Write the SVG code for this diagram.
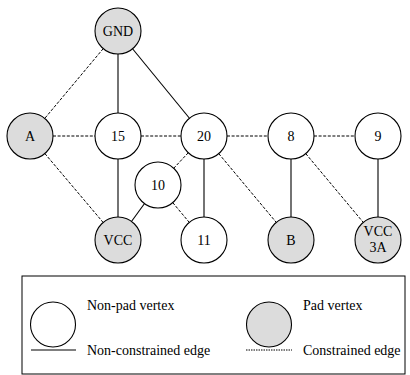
<svg xmlns="http://www.w3.org/2000/svg" width="410" height="375" viewBox="0 0 410 375">
<defs>
<style>
.n{fill:#fff;stroke:#000;stroke-width:1.1}
.p{fill:#dcdcdc;stroke:#000;stroke-width:1.1}
.s{stroke:#000;stroke-width:1.1;fill:none}
.d{stroke:#000;stroke-width:1;fill:none;stroke-dasharray:3,1.6}
.ld{stroke:#000;stroke-width:1;fill:none;stroke-dasharray:1.5,1}
.c{text-anchor:middle}
</style>
</defs>
<rect width="410" height="375" fill="#fff"/>
<g id="edges">
<line class="s" x1="118" y1="31" x2="118" y2="136"/>
<line class="s" x1="118" y1="31" x2="204" y2="136"/>
<line class="s" x1="118" y1="136" x2="118" y2="240"/>
<line class="s" x1="158" y1="185" x2="118" y2="240"/>
<line class="s" x1="204" y1="136" x2="204" y2="240"/>
<line class="s" x1="291" y1="136" x2="291" y2="240"/>
<line class="s" x1="378" y1="136" x2="378" y2="240"/>
<line class="d" x1="118" y1="31" x2="30" y2="136"/>
<line class="d" x1="30" y1="136" x2="118" y2="136"/>
<line class="d" x1="118" y1="136" x2="204" y2="136"/>
<line class="d" x1="30" y1="136" x2="118" y2="240"/>
<line class="d" x1="204" y1="136" x2="158" y2="185"/>
<line class="d" x1="158" y1="185" x2="204" y2="240"/>
<line class="d" x1="204" y1="136" x2="291" y2="136"/>
<line class="d" x1="291" y1="136" x2="378" y2="136"/>
<line class="d" x1="204" y1="136" x2="291" y2="240"/>
<line class="d" x1="291" y1="136" x2="378" y2="240"/>
</g>
<g id="GND"><circle class="p" cx="118" cy="31" r="23"/><text class="c" x="118" y="36" font-family="Liberation Serif" font-size="14" style="font-family:'Liberation Serif';font-size:14px">GND</text></g>
<g id="A"><circle class="p" cx="30" cy="136" r="23"/><text class="c" x="30" y="141" font-family="Liberation Serif" font-size="14" style="font-family:'Liberation Serif';font-size:14px">A</text></g>
<g id="n15"><circle class="n" cx="118" cy="136" r="23"/><text class="c" x="118" y="141" font-family="Liberation Serif" font-size="14" style="font-family:'Liberation Serif';font-size:14px">15</text></g>
<g id="n20"><circle class="n" cx="204" cy="136" r="23"/><text class="c" x="204" y="141" font-family="Liberation Serif" font-size="14" style="font-family:'Liberation Serif';font-size:14px">20</text></g>
<g id="n8"><circle class="n" cx="291" cy="136" r="23"/><text class="c" x="291" y="141" font-family="Liberation Serif" font-size="14" style="font-family:'Liberation Serif';font-size:14px">8</text></g>
<g id="n9"><circle class="n" cx="378" cy="136" r="23"/><text class="c" x="378" y="141" font-family="Liberation Serif" font-size="14" style="font-family:'Liberation Serif';font-size:14px">9</text></g>
<g id="n10"><circle class="n" cx="158" cy="185" r="23"/><text class="c" x="158" y="190" font-family="Liberation Serif" font-size="14" style="font-family:'Liberation Serif';font-size:14px">10</text></g>
<g id="VCC"><circle class="p" cx="118" cy="240" r="23"/><text class="c" x="118" y="245" font-family="Liberation Serif" font-size="14" style="font-family:'Liberation Serif';font-size:14px">VCC</text></g>
<g id="n11"><circle class="n" cx="204" cy="240" r="23"/><text class="c" x="204" y="245" font-family="Liberation Serif" font-size="14" style="font-family:'Liberation Serif';font-size:14px">11</text></g>
<g id="B"><circle class="p" cx="291" cy="240" r="23"/><text class="c" x="291" y="245" font-family="Liberation Serif" font-size="14" style="font-family:'Liberation Serif';font-size:14px">B</text></g>
<g id="VCC3A"><circle class="p" cx="378" cy="240" r="23"/><text class="c" x="378" y="236" font-family="Liberation Serif" font-size="14" style="font-family:'Liberation Serif';font-size:14px">VCC</text><text class="c" x="378" y="252" font-family="Liberation Serif" font-size="14" style="font-family:'Liberation Serif';font-size:14px">3A</text></g>
<g id="legend">
<rect x="22" y="276" width="383" height="98" fill="#fff" stroke="#000" stroke-width="1"/>
<circle class="n" cx="53" cy="324.5" r="22.5"/>
<text x="87" y="310" font-family="Liberation Serif" font-size="14" style="font-family:'Liberation Serif';font-size:14px">Non-pad vertex</text>
<circle class="p" cx="269" cy="324.5" r="22.5"/>
<text x="303" y="310" font-family="Liberation Serif" font-size="14" style="font-family:'Liberation Serif';font-size:14px">Pad vertex</text>
<line class="s" x1="31" y1="350" x2="76" y2="350"/>
<text x="87" y="355" font-family="Liberation Serif" font-size="14" style="font-family:'Liberation Serif';font-size:14px">Non-constrained edge</text>
<line class="ld" x1="246" y1="350" x2="292" y2="350"/>
<text x="303" y="355" font-family="Liberation Serif" font-size="14" style="font-family:'Liberation Serif';font-size:14px">Constrained edge</text>
</g>
</svg>
